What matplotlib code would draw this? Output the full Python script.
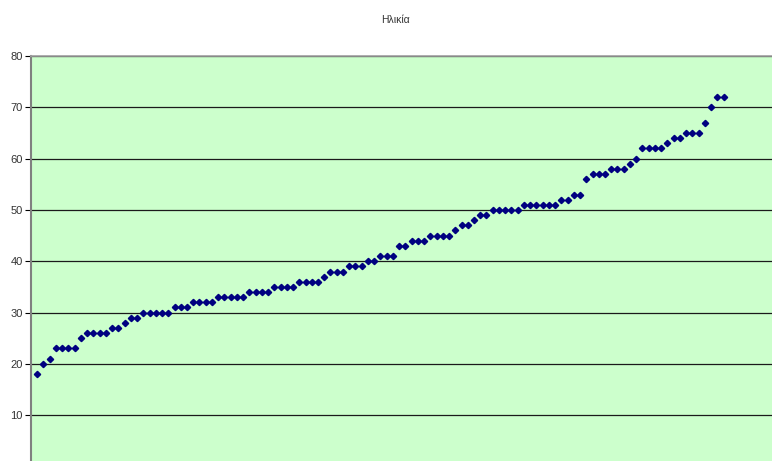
import matplotlib
matplotlib.use("Agg")
import matplotlib.pyplot as plt
import numpy as np

# Sorted ages (value, count)
age_values = [18, 20, 21, 23, 25, 26, 27, 28, 29, 30, 31, 32, 33, 34, 35, 36, 37, 38, 39, 40,
              41, 43, 44, 45, 46, 47, 48, 49, 50, 51, 52, 53, 56, 57, 58, 59, 60, 62, 63, 64,
              65, 67, 70, 72]
age_counts = [1, 1, 1, 4, 1, 4, 2, 1, 2, 5, 3, 4, 5, 4, 4, 4, 1, 3, 3, 2,
              3, 2, 3, 4, 1, 2, 1, 2, 5, 6, 2, 2, 1, 3, 3, 1, 1, 4, 1, 2,
              3, 1, 1, 2]
ages = np.repeat(age_values, age_counts)
idx = np.arange(1, len(ages) + 1)

y_ticks = [10, 20, 30, 40, 50, 60, 70, 80]
title = "Ηλικία"

W, H = 772, 461
fig = plt.figure(figsize=(W / 100, H / 100), dpi=100)
fig.patch.set_facecolor("white")

left = 31 / W
bottom = (H - 466.5) / H
top = (H - 56) / H
ax = fig.add_axes([left, bottom, 1.0 - left + 0.01, top - bottom])
ax.set_facecolor("#CCFFCC")

ax.set_xlim(0, 120)
ax.set_ylim(0, 80)
ax.set_yticks(y_ticks)
ax.set_xticks([])
ax.yaxis.grid(True, color="#1a1a1a", linewidth=0.9)
ax.set_axisbelow(True)

ax.plot(idx, ages, linestyle="none", marker="D", markersize=3.2,
        markerfacecolor="#000080", markeredgecolor="#000080", zorder=3)

for s in ["right", "bottom"]:
    ax.spines[s].set_visible(False)
ax.spines["left"].set_color("#808080")
ax.spines["left"].set_linewidth(1.5)
ax.spines["top"].set_color("#A0A0A0")
ax.spines["top"].set_linewidth(1.2)
ax.tick_params(axis="y", direction="out", length=4, width=0.8, color="#000000",
               labelsize=8, labelcolor="#333333", pad=2)
for lab in ax.get_yticklabels():
    lab.set_family(["Liberation Sans", "DejaVu Sans"])

fig.text(395 / W, 1 - 20 / H, title, ha="center", va="center", fontsize=7.5,
         color="#333333", family=["Liberation Sans", "DejaVu Sans"])

fig.savefig("out.png", dpi=100)
